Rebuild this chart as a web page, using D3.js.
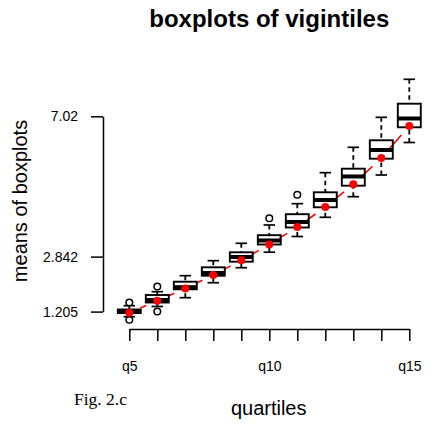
<!DOCTYPE html>
<html lang="en">
<head>
    <meta charset="UTF-8">
    <title>boxplots of vigintiles</title>
    <script src="https://d3js.org/d3.v7.min.js"></script>
    <style>
        body {
            margin: 0;
            background: #fff;
            font-family: 'Liberation Sans', Arial, Helvetica, sans-serif;
        }
        #chart svg { display: block; }
        .axis path, .axis line { stroke: #000; stroke-width: 1.5px; }
        .axis text { fill: #000; font-family: 'Liberation Sans', Arial, sans-serif; font-size: 14px; }
        .title { font-size: 24px; font-weight: bold; }
        .label { font-size: 20px; }
        .fig { font-family: 'Liberation Serif', 'Times New Roman', serif; font-size: 17.5px; }
    </style>
</head>
<body>
    <div id="chart"></div>

    <script>
        // data
        const categories = ["q5", "q6", "q7", "q8", "q9", "q10", "q11", "q12", "q13", "q14", "q15"];
        const lowWhisker = [1.053, 1.357, 1.619, 2.065, 2.512, 2.974, 3.441, 4.013, 4.626, 5.272, 6.240];
        const q1 = [1.163, 1.476, 1.869, 2.274, 2.691, 3.203, 3.709, 4.311, 4.954, 5.758, 6.693];
        const medians = [1.214, 1.550, 1.932, 2.354, 2.831, 3.322, 3.873, 4.528, 5.228, 6.017, 6.955];
        const q3 = [1.268, 1.699, 2.095, 2.524, 2.971, 3.480, 4.105, 4.757, 5.460, 6.306, 7.395];
        const highWhisker = [1.381, 1.798, 2.274, 2.721, 3.239, 3.784, 4.418, 5.341, 6.097, 6.990, 8.122];
        const outliers = [[0.961, 1.476], [1.208, 1.952], [], [], [], [3.983], [4.686], [], [], [], []];
        const means = [1.172, 1.530, 1.893, 2.295, 2.732, 3.203, 3.724, 4.319, 4.995, 5.778, 6.734];
        const yTicks = [1.205, 2.842, 7.02];
        const xLabels = ["q5", "q10", "q15"];

        const width = 433, height = 429;
        const svg = d3.select("#chart").append("svg")
            .attr("width", width)
            .attr("height", height);

        const x = d3.scalePoint().domain(categories).range([129.3, 409.3]);
        const y = d3.scaleLinear().domain([1.205, 7.02]).range([311.6, 116.3]);
        const step = x.step();
        const boxW = step * 0.82;
        const capW = boxW * 0.5;

        const rows = categories.map((c, i) => ({
            cat: c, lo: lowWhisker[i], q1: q1[i], med: medians[i], q3: q3[i],
            hi: highWhisker[i], out: outliers[i], mean: means[i]
        }));

        // axes
        svg.append("g")
            .attr("class", "axis")
            .attr("transform", "translate(103,0)")
            .call(d3.axisLeft(y).tickValues(yTicks).tickFormat(d => String(d))
                .tickSize(12).tickSizeOuter(0).tickPadding(13));

        svg.append("g")
            .attr("class", "axis")
            .attr("transform", "translate(0,329)")
            .call(d3.axisBottom(x).tickFormat(d => xLabels.includes(d) ? d : "")
                .tickSize(12).tickSizeOuter(0).tickPadding(20));

        // red line between the means (type "b": gaps round the points)
        const gap = 12;
        for (let i = 0; i < rows.length - 1; i++) {
            const x0 = x(rows[i].cat), y0 = y(rows[i].mean);
            const x1 = x(rows[i + 1].cat), y1 = y(rows[i + 1].mean);
            const len = Math.hypot(x1 - x0, y1 - y0);
            const ux = (x1 - x0) / len, uy = (y1 - y0) / len;
            svg.append("line")
                .attr("x1", x0 + ux * gap).attr("y1", y0 + uy * gap)
                .attr("x2", x1 - ux * gap).attr("y2", y1 - uy * gap)
                .attr("stroke", "red")
                .attr("stroke-width", 1.6);
        }

        // boxes
        const g = svg.selectAll(".box")
            .data(rows)
            .enter()
            .append("g")
            .attr("class", "box")
            .attr("transform", d => `translate(${x(d.cat)},0)`);

        // whiskers, drawn from the cap towards the box
        g.append("line")
            .attr("y1", d => y(d.hi)).attr("y2", d => y(d.q3))
            .attr("stroke", "#000").attr("stroke-width", 1.8)
            .attr("stroke-dasharray", "4.5,3.5");
        g.append("line")
            .attr("y1", d => y(d.lo)).attr("y2", d => y(d.q1))
            .attr("stroke", "#000").attr("stroke-width", 1.8)
            .attr("stroke-dasharray", "4.5,3.5");

        g.append("line")
            .attr("x1", -capW / 2).attr("x2", capW / 2)
            .attr("y1", d => y(d.hi)).attr("y2", d => y(d.hi))
            .attr("stroke", "#000").attr("stroke-width", 1.7);
        g.append("line")
            .attr("x1", -capW / 2).attr("x2", capW / 2)
            .attr("y1", d => y(d.lo)).attr("y2", d => y(d.lo))
            .attr("stroke", "#000").attr("stroke-width", 1.7);

        g.append("rect")
            .attr("x", -boxW / 2)
            .attr("width", boxW)
            .attr("y", d => y(d.q3))
            .attr("height", d => y(d.q1) - y(d.q3))
            .attr("fill", "none")
            .attr("stroke", "#000")
            .attr("stroke-width", 1.9);

        g.append("line")
            .attr("x1", -boxW / 2).attr("x2", boxW / 2)
            .attr("y1", d => y(d.med)).attr("y2", d => y(d.med))
            .attr("stroke", "#000").attr("stroke-width", 4);

        g.selectAll(".out")
            .data(d => d.out)
            .enter()
            .append("circle")
            .attr("cy", v => y(v))
            .attr("r", 3.3)
            .attr("fill", "none")
            .attr("stroke", "#000")
            .attr("stroke-width", 1.5);

        // mean points
        svg.selectAll(".mean")
            .data(rows)
            .enter()
            .append("circle")
            .attr("cx", d => x(d.cat))
            .attr("cy", d => y(d.mean))
            .attr("r", 4)
            .attr("fill", "red");

        // texts
        svg.append("text")
            .attr("class", "title")
            .attr("x", 269.3).attr("y", 26.7)
            .attr("text-anchor", "middle")
            .text("boxplots of vigintiles");

        svg.append("text")
            .attr("class", "label")
            .attr("transform", "translate(26.7,201) rotate(-90)")
            .attr("text-anchor", "middle")
            .text("means of boxplots");

        svg.append("text")
            .attr("class", "label")
            .attr("x", 268.7).attr("y", 415)
            .attr("text-anchor", "middle")
            .text("quartiles");

        svg.append("text")
            .attr("class", "fig")
            .attr("x", 74).attr("y", 405)
            .text("Fig. 2.c");
    </script>
</body>
</html>
